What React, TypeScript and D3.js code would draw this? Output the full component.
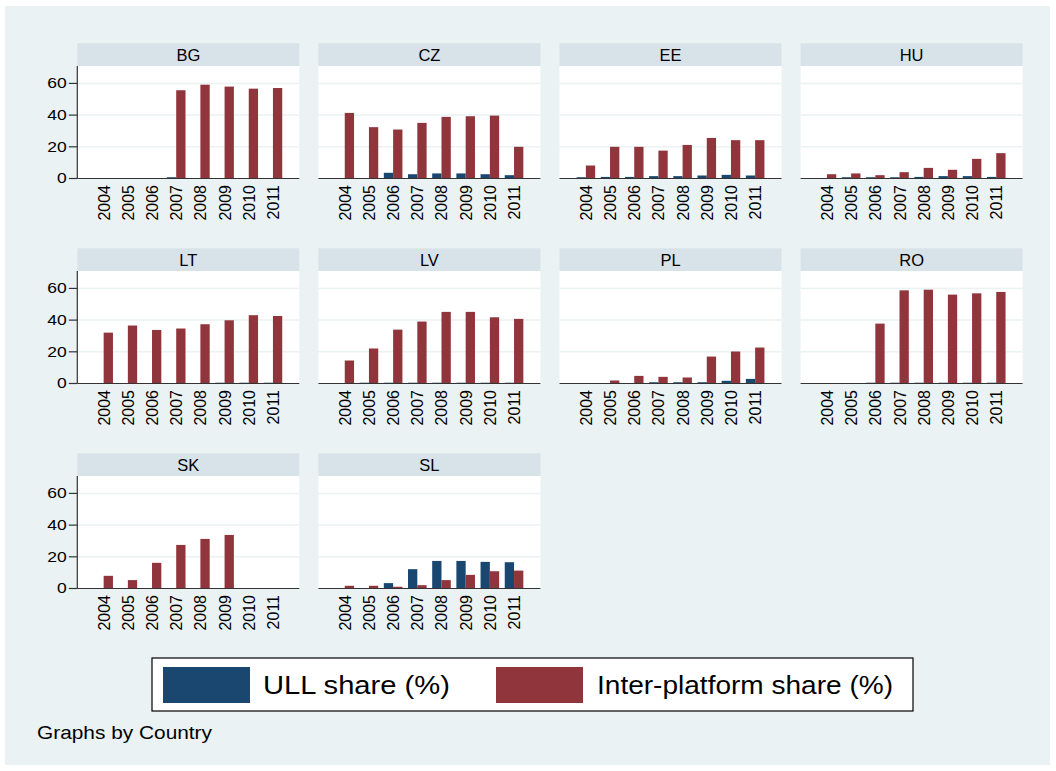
import React from "react";
import * as d3 from "d3";

const years = ["2004", "2005", "2006", "2007", "2008", "2009", "2010", "2011"];
const countries = ["BG", "CZ", "EE", "HU", "LT", "LV", "PL", "RO", "SK", "SL"];
const yTicks = [0, 20, 40, 60];

type V = number | null;
// ULL share (%) per country, 2004..2011
const ullBG: V[] = [null, null, null, 0.8, null, null, null, null];
const ullCZ: V[] = [null, null, 3.6, 2.7, 3.2, 3.2, 2.7, 2.1];
const ullEE: V[] = [0.8, 1.0, 1.0, 1.5, 1.5, 1.9, 2.3, 1.9];
const ullHU: V[] = [null, 0.8, 0.8, 0.8, 1.0, 1.5, 1.5, 1.0];
const ullLT: V[] = [null, null, null, null, null, 0.5, 0.5, 0.5];
const ullLV: V[] = [null, 0.5, 0.5, 0.5, 0.5, 0.5, 0.5, 0.5];
const ullPL: V[] = [null, null, null, 0.8, 0.8, 0.8, 1.7, 2.9];
const ullRO: V[] = [null, null, 0.5, 0.5, 0.5, 0.5, 0.5, 0.5];
const ullSK: V[] = [null, null, null, null, null, null, null, null];
const ullSL: V[] = [null, null, 3.4, 12.2, 17.4, 17.4, 16.8, 16.6];

// Inter-platform share (%) per country, 2004..2011
const interBG: V[] = [null, null, null, 55.7, 59.2, 58.0, 56.7, 57.1];
const interCZ: V[] = [41.4, 32.4, 30.9, 35.1, 38.9, 39.3, 39.7, 20.0];
const interEE: V[] = [8.2, 20.0, 20.0, 17.6, 21.2, 25.6, 24.2, 24.2];
const interHU: V[] = [2.7, 3.2, 2.1, 4.0, 6.7, 5.5, 12.4, 16.0];
const interLT: V[] = [32.1, 36.6, 33.8, 34.7, 37.4, 39.9, 43.1, 42.6];
const interLV: V[] = [14.5, 22.1, 34.0, 39.1, 45.2, 45.2, 41.8, 40.8];
const interPL: V[] = [null, 1.9, 4.8, 4.2, 3.8, 17.0, 20.2, 22.7];
const interRO: V[] = [null, null, 37.8, 58.8, 59.2, 56.1, 56.9, 57.8];
const interSK: V[] = [8.0, 5.3, 16.2, 27.5, 31.3, 33.8, null, null];
const interSL: V[] = [1.7, 1.7, 1.1, 2.1, 5.3, 8.6, 10.9, 11.3];

const ullData: V[][] = [ullBG, ullCZ, ullEE, ullHU, ullLT, ullLV, ullPL, ullRO, ullSK, ullSL];
const interData: V[][] = [interBG, interCZ, interEE, interHU, interLT, interLV, interPL, interRO, interSK, interSL];

const seriesNames = ["ULL share (%)", "Inter-platform share (%)"];
const note = "Graphs by Country";

const W = 1056;
const H = 771;
const BG = "#eaf2f3";
const STRIP = "#d8e3e9";
const NAVY = "#1a476f";
const MAROON = "#90353b";
const FONT = "'Liberation Sans', Arial, Helvetica, sans-serif";

const panelW = 222;
const plotH = 112.5;
const stripH = 22.7;
const colX0 = 77.3;
const colStep = 241.1;
const rowZero0 = 178.5;
const rowStep = 205;
const barW = 9.3;

export default function App() {
  const x = d3.scalePoint<string>().domain(years).range([0, panelW]).padding(1.09);
  const y = d3.scaleLinear().domain([0, 71]).range([plotH, 0]);

  return (
    <svg
      width={W}
      height={H}
      style={{ position: "absolute", left: 0, top: 0, background: "#fff" }}
      fontFamily={FONT}
    >
      <rect x={5} y={6} width={1045} height={759} fill={BG} />
      {countries.map((c, i) => {
        const col = i % 4;
        const row = Math.floor(i / 4);
        const left = colX0 + col * colStep;
        const top = rowZero0 + row * rowStep - plotH;
        const ull = ullData[i];
        const inter = interData[i];
        return (
          <g key={c} transform={`translate(${left},${top})`}>
            <rect x={0} y={-stripH} width={panelW} height={stripH} fill={STRIP} />
            <text
              x={panelW / 2}
              y={-stripH / 2 + 6}
              textAnchor="middle"
              fontSize={16.5}
              fill="#000"
            >
              {c}
            </text>
            <rect x={0} y={0} width={panelW} height={plotH} fill="#fff" />
            {yTicks.filter((t) => t > 0).map((t) => (
              <line
                key={t}
                x1={0}
                x2={panelW}
                y1={y(t)}
                y2={y(t)}
                stroke={BG}
                strokeWidth={1.5}
              />
            ))}
            {years.map((yr, j) => {
              const cx = x(yr) as number;
              const u = ull[j];
              const v = inter[j];
              return (
                <g key={yr}>
                  {u != null && (
                    <rect x={cx - barW} y={y(u)} width={barW} height={y(0) - y(u)} fill={NAVY} />
                  )}
                  {v != null && (
                    <rect x={cx} y={y(v)} width={barW} height={y(0) - y(v)} fill={MAROON} />
                  )}
                </g>
              );
            })}
            <line x1={0} x2={panelW} y1={plotH} y2={plotH} stroke="#333" strokeWidth={1.2} />
            {col === 0 && (
              <g>
                <line x1={0} x2={0} y1={0} y2={plotH} stroke="#333" strokeWidth={1.2} />
                {yTicks.map((t) => (
                  <g key={t}>
                    <line x1={-8.5} x2={0} y1={y(t)} y2={y(t)} stroke="#333" strokeWidth={1.2} />
                    <text
                      x={-10.5}
                      y={y(t)}
                      dy="0.35em"
                      textAnchor="end"
                      fontSize={14}
                      transform={`translate(${-10.5},0) scale(1.25,1) translate(${10.5},0)`}
                      fill="#000"
                    >
                      {t}
                    </text>
                  </g>
                ))}
              </g>
            )}
            {years.map((yr) => {
              const cx = x(yr) as number;
              return (
                <text
                  key={yr}
                  transform={`translate(${cx + 6},${plotH + 6.5}) rotate(-90)`}
                  textAnchor="end"
                  fontSize={16}
                  fill="#000"
                >
                  {yr}
                </text>
              );
            })}
          </g>
        );
      })}
      <g>
        <rect x={152} y={658} width={761} height={53} fill="#fff" stroke="#000" strokeWidth={1.2} />
        <rect x={163} y={667} width={87} height={36} fill={NAVY} />
        <text x={263} y={694} fontSize={26} textLength={187} lengthAdjust="spacingAndGlyphs" fill="#000">
          {seriesNames[0]}
        </text>
        <rect x={496} y={667} width={87} height={36} fill={MAROON} />
        <text x={597} y={694} fontSize={26} textLength={296} lengthAdjust="spacingAndGlyphs" fill="#000">
          {seriesNames[1]}
        </text>
      </g>
      <text x={37} y={739} fontSize={19} textLength={175} lengthAdjust="spacingAndGlyphs" fill="#000">
        {note}
      </text>
    </svg>
  );
}
